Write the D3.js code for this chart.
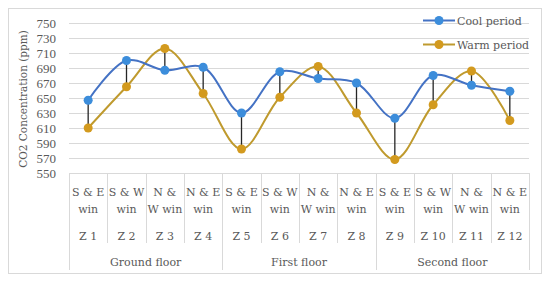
<!DOCTYPE html>
<html><head><meta charset="utf-8">
<script src="https://cdn.jsdelivr.net/npm/d3@7"></script>
<style>body{margin:0;background:#fff}svg{display:block}text{font-family:"DejaVu Serif",serif;fill:#595959}</style>
</head><body><svg id="c" width="550" height="281"></svg>
<script>
const zones = ["Z 1","Z 2","Z 3","Z 4","Z 5","Z 6","Z 7","Z 8","Z 9","Z 10","Z 11","Z 12"];
const windows = [["S & E","win"],["S & W","win"],["N &","W win"],["N & E","win"],["S & E","win"],["S & W","win"],["N &","W win"],["N & E","win"],["S & E","win"],["S & W","win"],["N &","W win"],["N & E","win"]];
const floors = ["Ground floor","First floor","Second floor"];
const coolValues = [647,700,687,691,630,685,676,670,623,680,667,659];
const warmValues = [610,665,716,656,582,651,692,630,568,641,686,620];
const yTicks = [550,570,590,610,630,650,670,690,710,730,750];
const seriesNames = ["Cool period","Warm period"];

const svg = d3.select("#c");
const L = 69, R = 529, T = 23, B = 173;
const x = d3.scaleBand().domain(zones).range([L, R]);
const y = d3.scaleLinear().domain([550, 750]).range([B, T]);

svg.append("rect").attr("x",8.5).attr("y",8.5).attr("width",533).attr("height",265)
  .attr("fill","#fff").attr("stroke","#d9d9d9");

svg.append("g").selectAll("line").data(yTicks.slice(1)).join("line")
  .attr("x1",L).attr("x2",R).attr("y1",d=>Math.round(y(d))+0.5).attr("y2",d=>Math.round(y(d))+0.5)
  .attr("stroke","#d9d9d9").attr("stroke-width",1);

svg.append("g").selectAll("text").data(yTicks).join("text")
  .attr("x",56).attr("y",d=>y(d)+4.5).attr("text-anchor","end")
  .style("font-family","'Liberation Serif',serif").attr("font-size",13).text(d=>d);

svg.append("text").attr("transform",`translate(27,${(T+B)/2+1}) rotate(-90)`)
  .attr("text-anchor","middle").attr("font-size",10.5).text("CO2 Concentration (ppm)");

const ax = svg.append("g");
ax.append("line").attr("x1",L).attr("x2",R).attr("y1",B+0.5).attr("y2",B+0.5).attr("stroke","#d9d9d9");
zones.forEach((z,i)=>{
  const x0 = x(z);
  const isGroup = i % 4 === 0;
  ax.append("line").attr("x1",Math.round(x0)+0.5).attr("x2",Math.round(x0)+0.5)
    .attr("y1",B).attr("y2",isGroup?270:243).attr("stroke","#d9d9d9");
  const cx = x0 + x.bandwidth()/2;
  ax.append("text").attr("x",cx).attr("y",196).attr("text-anchor","middle").attr("font-size",11).text(windows[i][0]);
  ax.append("text").attr("x",cx).attr("y",213).attr("text-anchor","middle").attr("font-size",11).text(windows[i][1]);
  ax.append("text").attr("x",cx).attr("y",240).attr("text-anchor","middle").attr("font-size",11).text(z);
});
ax.append("line").attr("x1",R+0.5).attr("x2",R+0.5).attr("y1",B).attr("y2",270).attr("stroke","#d9d9d9");
floors.forEach((f,g)=>{
  const a = x(zones[g*4]), b = x(zones[g*4+3]) + x.bandwidth();
  ax.append("text").attr("x",(a+b)/2).attr("y",266).attr("text-anchor","middle").attr("font-size",11).text(f);
});

const cxs = zones.map(z=>x(z)+x.bandwidth()/2);
svg.append("g").selectAll("line").data(zones).join("line")
  .attr("x1",(d,i)=>cxs[i]).attr("x2",(d,i)=>cxs[i])
  .attr("y1",(d,i)=>y(coolValues[i])).attr("y2",(d,i)=>y(warmValues[i]))
  .attr("stroke","#262626").attr("stroke-width",1.3);

const line = d3.line().x((d,i)=>cxs[i]).y(d=>y(d)).curve(d3.curveCatmullRom.alpha(0.5));
const styles = [{line:"#4472C4",fill:"#3C8DDB"},{line:"#BF9A2E",fill:"#D39A1E"}];
[warmValues, coolValues].forEach((vals)=>{
  const s = vals===coolValues?styles[0]:styles[1];
  svg.append("path").attr("d",line(vals)).attr("fill","none").attr("stroke",s.line).attr("stroke-width",2);
});
[warmValues, coolValues].forEach((vals)=>{
  const s = vals===coolValues?styles[0]:styles[1];
  svg.append("g").selectAll("circle").data(vals).join("circle")
    .attr("cx",(d,i)=>cxs[i]).attr("cy",d=>y(d)).attr("r",4.5).attr("fill",s.fill);
});

seriesNames.forEach((n,i)=>{
  const yy = 20.5 + i*24;
  const g = svg.append("g");
  g.append("line").attr("x1",423).attr("x2",455).attr("y1",yy).attr("y2",yy).attr("stroke",styles[i].line).attr("stroke-width",2);
  g.append("circle").attr("cx",439).attr("cy",yy).attr("r",4.5).attr("fill",styles[i].fill);
  g.append("text").attr("x",457).attr("y",yy+4).attr("font-size",11).text(n);
});
</script></body></html>
